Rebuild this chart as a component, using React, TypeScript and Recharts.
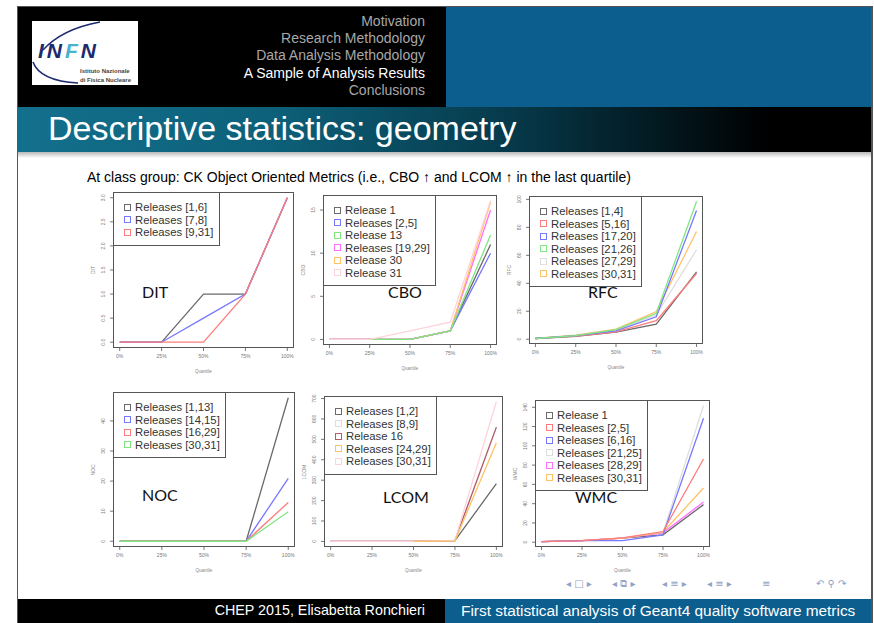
import React from "react"
import { LineChart, Line, XAxis, YAxis } from "recharts"

// quantile positions shared by all six plots
const quantileLabels = ["0%", "25%", "50%", "75%", "100%"]

// DIT
const ditLegend = ["Releases [1,6]", "Releases [7,8]", "Releases [9,31]"]
const ditRel1to6 = [0, 0, 1, 1, 3]
const ditRel7to8 = [0, 0, 0.5, 1, 3]
const ditRel9to31 = [0, 0, 0, 1, 3]
const ditTicks = [0, 0.5, 1, 1.5, 2, 2.5, 3]

// CBO
const cboLegend = ["Release 1", "Releases [2,5]", "Release 13", "Releases [19,29]", "Release 30", "Release 31"]
const cboRel1 = [0, 0, 0, 1, 11]
const cboRel2to5 = [0, 0, 0, 1, 10]
const cboRel13 = [null, 0, 0, 1, 12.1]
const cboRel19to29 = [0, 0, 0, 1, 15]
const cboRel30 = [0, 0, 0, 1, 15.9]
const cboRel31 = [0, 0, 1, 2, 16.1]
const cboTicks = [0, 5, 10, 15]

// RFC
const rfcLegend = ["Releases [1,4]", "Releases [5,16]", "Releases [17,20]", "Releases [21,26]", "Releases [27,29]", "Releases [30,31]"]
const rfcRel1to4 = [0.5, 2, 5, 10.8, 48.2]
const rfcRel5to16 = [0.5, 2.2, 5.2, 13.3, 47]
const rfcRel17to20 = [0.5, 2.5, 6, 16, 92]
const rfcRel21to26 = [0.5, 2.6, 6.8, 18.5, 98.5]
const rfcRel27to29 = [0.5, 2.8, 6.5, 17.3, 64]
const rfcRel30to31 = [0.5, 3, 7.2, 19.8, 77]
const rfcTicks = [0, 20, 40, 60, 80, 100]

// NOC
const nocLegend = ["Releases [1,13]", "Releases [14,15]", "Releases [16,29]", "Releases [30,31]"]
const nocRel1to13 = [0, 0, 0, 0, 47.7]
const nocRel14to15 = [0, 0, 0, 0, 20.9]
const nocRel16to29 = [0, 0, 0, 0, 12.9]
const nocRel30to31 = [0, 0, 0, 0, 9.8]
const nocTicks = [0, 10, 20, 30, 40]

// LCOM
const lcomLegend = ["Releases [1,2]", "Releases [8,9]", "Release 16", "Releases [24,29]", "Releases [30,31]"]
const lcomRel1to2 = [0, 0, 0, 4, 283]
const lcomRel8to9 = [0, 0, 0, 4, 560]
const lcomRel16 = [0, 0, 0, 4, 560]
const lcomRel24to29 = [null, null, 0, 3, 483]
const lcomRel30to31 = [0, 0, 0, 5, 685]
const lcomTicks = [0, 100, 200, 300, 400, 500, 600, 700]

// WMC
const wmcLegend = ["Release 1", "Releases [2,5]", "Releases [6,16]", "Releases [21,25]", "Releases [28,29]", "Releases [30,31]"]
const wmcRel1 = [0.7, 1.7, 4.2, 7.7, 39]
const wmcRel2to5 = [0.7, 1.7, 4.5, 11.1, 86.3]
const wmcRel6to16 = [0.7, 1.7, 1.7, 7.7, 128.7]
const wmcRel21to25 = [0.7, 1.7, 4.2, 9.7, 141.9]
const wmcRel28to29 = [0.7, 1.7, 4.2, 9.7, 41.7]
const wmcRel30to31 = [0.7, 1.7, 4.2, 10.4, 56.3]
const wmcTicks = [0, 20, 40, 60, 80, 100, 120, 140]

const GRAY = "#6a6a6a"
const BLUE = "#7878ff"
const RED = "#ff7c7c"
const GREEN = "#80e680"
const MAGENTA = "#ff70ff"
const ORANGE = "#ffc266"
const PINK = "#ffd3da"
const LIGHTGRAY = "#dedede"
const DARKRED = "#b45c6c"

// pad the value range by 4% on each side, like R does
const padded = (series: (number | null)[][]): [number, number] => {
  const vals = series.flat().filter((v) => v !== null) as number[]
  const lo = Math.min(...vals)
  const hi = Math.max(...vals)
  const r = hi - lo
  return [lo - 0.04 * r, hi + 0.04 * r]
}

const panels = [
  {
    name: "DIT",
    legend: ditLegend,
    series: [ditRel1to6, ditRel7to8, ditRel9to31],
    colors: [GRAY, BLUE, RED],
    order: [0, 1, 2],
    ticks: ditTicks,
    fmt: (v: number) => v.toFixed(1),
    box: { left: 113, top: 192, width: 181, height: 156 },
    label: { x: 142, y: 292 },
  },
  {
    name: "CBO",
    legend: cboLegend,
    series: [cboRel1, cboRel2to5, cboRel13, cboRel19to29, cboRel30, cboRel31],
    colors: [GRAY, BLUE, GREEN, MAGENTA, ORANGE, PINK],
    order: [0, 1, 3, 4, 2, 5],
    ticks: cboTicks,
    fmt: (v: number) => String(v),
    box: { left: 323, top: 195, width: 174, height: 150 },
    label: { x: 388, y: 292 },
  },
  {
    name: "RFC",
    legend: rfcLegend,
    series: [rfcRel1to4, rfcRel5to16, rfcRel17to20, rfcRel21to26, rfcRel27to29, rfcRel30to31],
    colors: [GRAY, RED, BLUE, GREEN, LIGHTGRAY, ORANGE],
    order: [4, 5, 0, 1, 2, 3],
    ticks: rfcTicks,
    fmt: (v: number) => String(v),
    box: { left: 529, top: 196, width: 174, height: 148 },
    label: { x: 588, y: 292 },
  },
  {
    name: "NOC",
    legend: nocLegend,
    series: [nocRel1to13, nocRel14to15, nocRel16to29, nocRel30to31],
    colors: [GRAY, BLUE, RED, GREEN],
    order: [0, 1, 2, 3],
    ticks: nocTicks,
    fmt: (v: number) => String(v),
    box: { left: 113, top: 392, width: 182, height: 155 },
    label: { x: 142, y: 495 },
  },
  {
    name: "LCOM",
    legend: lcomLegend,
    series: [lcomRel1to2, lcomRel8to9, lcomRel16, lcomRel24to29, lcomRel30to31],
    colors: [GRAY, LIGHTGRAY, DARKRED, ORANGE, PINK],
    order: [0, 1, 2, 4, 3],
    ticks: lcomTicks,
    fmt: (v: number) => String(v),
    box: { left: 324, top: 396, width: 179, height: 151 },
    label: { x: 383, y: 497 },
  },
  {
    name: "WMC",
    legend: wmcLegend,
    series: [wmcRel1, wmcRel2to5, wmcRel6to16, wmcRel21to25, wmcRel28to29, wmcRel30to31],
    colors: [GRAY, RED, BLUE, LIGHTGRAY, MAGENTA, ORANGE],
    order: [3, 0, 4, 5, 2, 1],
    ticks: wmcTicks,
    fmt: (v: number) => String(v),
    box: { left: 535, top: 400, width: 175, height: 147 },
    label: { x: 575, y: 497 },
  },
]

const Y_W = 24
const X_H = 28
const PAD_T = 8
const PAD_R = 4

function MetricPanel({ p }: { p: (typeof panels)[number] }) {
  const rows = quantileLabels.map((_, i) => {
    const r: any = { q: i }
    p.series.forEach((s, k) => (r["s" + k] = s[i]))
    return r
  })
  const yDomain = padded(p.series)

  const YTick = (props: any) => {
    const tx = props.x - 3
    return (
      <text x={tx} y={props.y} transform={`rotate(-90 ${tx} ${props.y})`} textAnchor="middle" fontSize={5} fill="#777">
        {p.fmt(props.payload.value)}
      </text>
    )
  }

  return (
    <>
      <div style={{ position: "absolute", left: p.box.left - Y_W, top: p.box.top - PAD_T }}>
        <LineChart
          width={p.box.width + Y_W + PAD_R}
          height={p.box.height + X_H + PAD_T}
          data={rows}
          margin={{ top: PAD_T, right: PAD_R, bottom: 0, left: 0 }}
        >
          <XAxis
            dataKey="q"
            type="number"
            domain={[-0.16, 4.16]}
            ticks={[0, 1, 2, 3, 4]}
            interval={0}
            tickFormatter={(v) => quantileLabels[v]}
            axisLine={false}
            tickSize={3}
            tickMargin={3}
            tick={{ fontSize: 5, fill: "#777" }}
            tickLine={{ stroke: "#777" }}
            height={X_H}
            label={{ value: "Quantile", position: "insideBottom", offset: 3, fontSize: 4.5, fill: "#888" }}
          />
          <YAxis
            type="number"
            domain={yDomain}
            ticks={p.ticks}
            interval={0}
            allowDataOverflow
            width={Y_W}
            axisLine={false}
            tickSize={3}
            tickLine={{ stroke: "#777" }}
            tick={YTick}
          />
          {p.order.map((k) => (
            <Line
              key={k}
              type="linear"
              dataKey={"s" + k}
              stroke={p.colors[k]}
              strokeWidth={1.3}
              dot={false}
              isAnimationActive={false}
            />
          ))}
        </LineChart>
      </div>
      {/* plot frame */}
      <div
        style={{
          position: "absolute",
          left: p.box.left,
          top: p.box.top,
          width: p.box.width,
          height: p.box.height,
          border: "1px solid #555",
          boxSizing: "border-box",
        }}
      />
      {/* axis name */}
      <div style={{ position: "absolute", left: p.box.left - 20, top: p.box.top + p.box.height / 2, width: 0, height: 0 }}>
        <span
          style={{
            position: "absolute",
            transform: "translate(-50%, -50%) rotate(-90deg)",
            fontSize: 5,
            color: "#888",
            whiteSpace: "nowrap",
          }}
        >
          {p.name}
        </span>
      </div>
      {/* legend */}
      <div
        style={{
          position: "absolute",
          left: p.box.left,
          top: p.box.top,
          background: "#fff",
          border: "1px solid #555",
          padding: "8px 5px 6px 0",
          fontSize: 11.3,
          lineHeight: "12.5px",
          color: "#333",
        }}
      >
        {p.legend.map((t, k) => (
          <div key={t} style={{ display: "flex", alignItems: "center", whiteSpace: "nowrap" }}>
            <span
              style={{
                display: "inline-block",
                width: 5,
                height: 5,
                border: `1px solid ${p.colors[k]}`,
                marginLeft: 10,
                marginRight: 4,
              }}
            />
            {t}
          </div>
        ))}
      </div>
      {/* big metric label inside the plot */}
      <div
        style={{
          position: "absolute",
          left: p.label.x,
          top: p.label.y - 9,
          fontFamily: "Lato, 'Open Sans', sans-serif",
          fontSize: 16,
          lineHeight: "18px",
          color: "#111",
        }}
      >
        {p.name}
      </div>
    </>
  )
}

const navItems = ["Motivation", "Research Methodology", "Data Analysis Methodology", "A Sample of Analysis Results", "Conclusions"]
const activeNav = 3

function Logo() {
  return (
    <svg width={106} height={64} style={{ position: "absolute", left: 32, top: 21, background: "#fff" }}>
      <path d="M 68 1 Q 30 8 11 29" stroke="#1c2a6e" strokeWidth={1.6} fill="none" />
      <path d="M 1 41 Q 8 60 46 62" stroke="#1c2a6e" strokeWidth={1.6} fill="none" />
      <text x={6} y={37} fontSize={21} fontStyle="italic" fontWeight="bold" letterSpacing={3} fontFamily="'Liberation Sans', Arial">
        <tspan fill="#1c2a6e">IN</tspan>
        <tspan fill="#47b3cc">F</tspan>
        <tspan fill="#1c2a6e">N</tspan>
      </text>
      <text x={48} y={52} fontSize={6} fontWeight="bold" fill="#444" fontFamily="'Liberation Sans', Arial">
        Istituto Nazionale
      </text>
      <text x={48} y={61} fontSize={6} fontWeight="bold" fill="#444" fontFamily="'Liberation Sans', Arial">
        di Fisica Nucleare
      </text>
    </svg>
  )
}

const navSymbols = [
  { x: 566, t: "◂ □ ▸" },
  { x: 612, t: "◂ ⧉ ▸" },
  { x: 662, t: "◂ ≡ ▸" },
  { x: 707, t: "◂ ≡ ▸" },
  { x: 762, t: "≡" },
  { x: 816, t: "↶ ⚲ ↷" },
]

export default function App() {
  return (
    <div
      style={{
        position: "absolute",
        left: 0,
        top: 0,
        width: 874,
        height: 623,
        background: "#fff",
        overflow: "hidden",
        fontFamily: "'Liberation Sans', Arial, sans-serif",
      }}
    >
      {/* slide frame */}
      <div style={{ position: "absolute", left: 17, top: 6, width: 856, height: 620, background: "#555" }} />
      <div style={{ position: "absolute", left: 18, top: 7, width: 853, height: 616, background: "#fff" }} />

      {/* header */}
      <div style={{ position: "absolute", left: 18, top: 7, width: 428, height: 100, background: "#000" }} />
      <div style={{ position: "absolute", left: 446, top: 7, width: 425, height: 100, background: "#0c5e8e" }} />
      <Logo />
      {navItems.map((t, i) => (
        <div
          key={t}
          style={{
            position: "absolute",
            right: 874 - 425,
            top: 13 + i * 17.2,
            fontSize: 14,
            lineHeight: "16px",
            color: i === activeNav ? "#fff" : "#a8a8a8",
            whiteSpace: "nowrap",
          }}
        >
          {t}
        </div>
      ))}

      {/* title bar */}
      <div
        style={{
          position: "absolute",
          left: 18,
          top: 107,
          width: 853,
          height: 45,
          background: "linear-gradient(90deg, #13708d 0%, #0d6079 30%, #06394a 58%, #000 88%)",
        }}
      />
      <div style={{ position: "absolute", left: 18, top: 152, width: 853, height: 6, background: "linear-gradient(#b8b8b8, #fff)" }} />
      <div
        style={{
          position: "absolute",
          left: 48,
          top: 111,
          fontSize: 34,
          lineHeight: "34px",
          color: "#fff",
          whiteSpace: "nowrap",
        }}
      >
        Descriptive statistics: geometry
      </div>

      <div style={{ position: "absolute", left: 87, top: 169, fontSize: 14, lineHeight: "16px", color: "#000", whiteSpace: "nowrap" }}>
        At class group: CK Object Oriented Metrics (i.e., CBO ↑ and LCOM ↑ in the last quartile)
      </div>

      {panels.map((p) => (
        <MetricPanel key={p.name} p={p} />
      ))}

      {/* beamer navigation symbols */}
      {navSymbols.map((s) => (
        <div
          key={s.x}
          style={{
            position: "absolute",
            left: s.x,
            top: 578,
            fontFamily: "'DejaVu Sans', sans-serif",
            fontSize: 10,
            color: "#8ea3c6",
            whiteSpace: "nowrap",
          }}
        >
          {s.t}
        </div>
      ))}

      {/* footer */}
      <div style={{ position: "absolute", left: 18, top: 599, width: 427, height: 24, background: "#000" }} />
      <div style={{ position: "absolute", left: 445, top: 599, width: 426, height: 24, background: "#0c5e8e" }} />
      <div style={{ position: "absolute", right: 874 - 425, top: 602, fontSize: 14.3, lineHeight: "17px", color: "#fff", whiteSpace: "nowrap" }}>
        CHEP 2015, Elisabetta Ronchieri
      </div>
      <div style={{ position: "absolute", left: 461, top: 602, fontSize: 15.4, lineHeight: "17px", color: "#fff", whiteSpace: "nowrap" }}>
        First statistical analysis of Geant4 quality software metrics
      </div>
    </div>
  )
}
